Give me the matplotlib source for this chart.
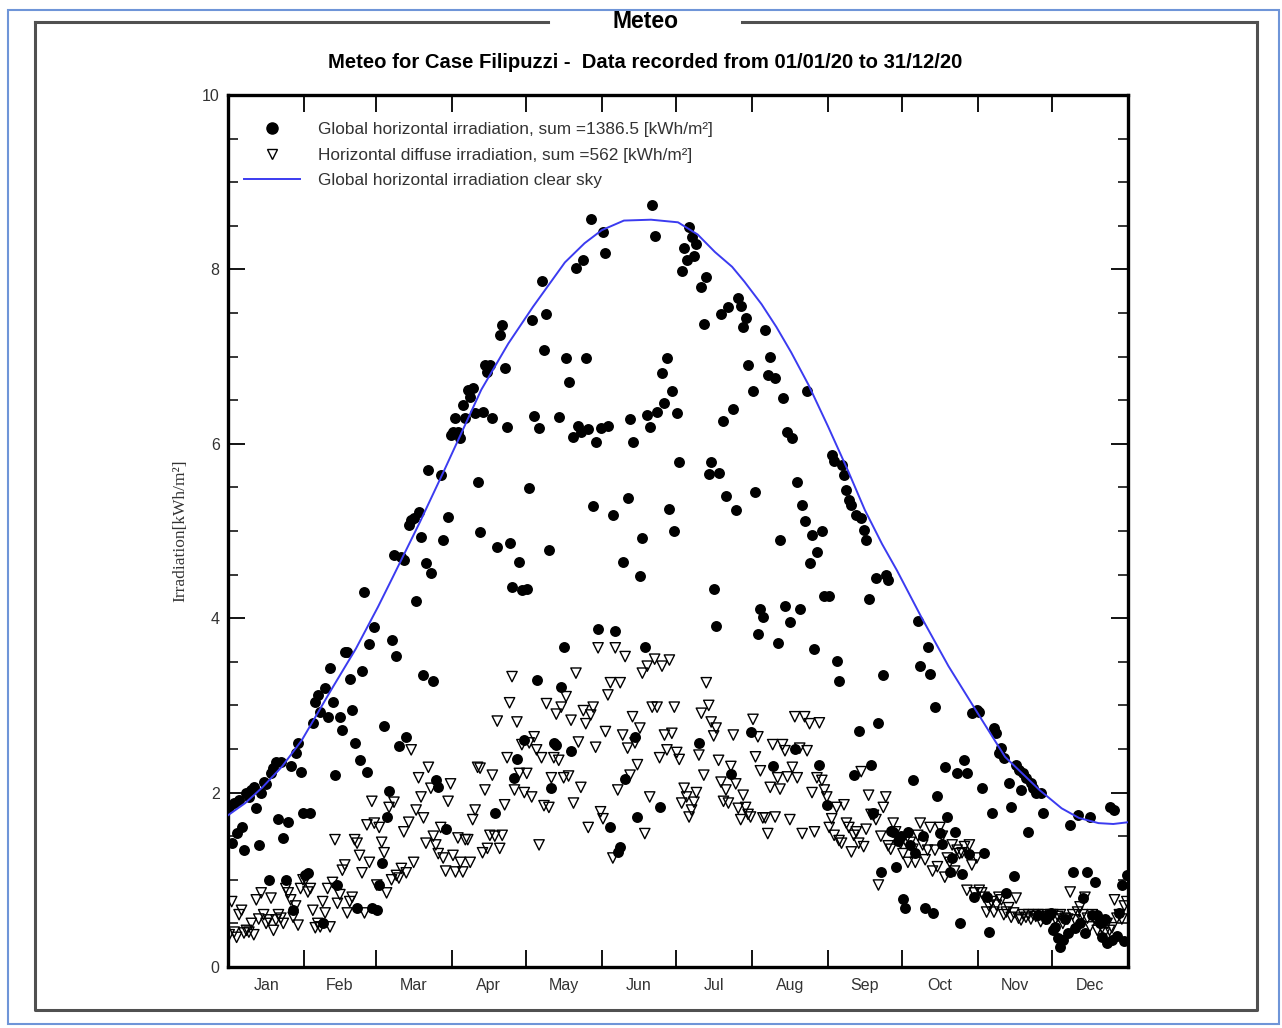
import numpy as np
import matplotlib
matplotlib.use("Agg")
import matplotlib.pyplot as plt
from matplotlib.patches import Rectangle
from matplotlib.lines import Line2D

# ---------------- data ----------------
months = ["Jan", "Feb", "Mar", "Apr", "May", "Jun", "Jul", "Aug", "Sep", "Oct", "Nov", "Dec"]
month_days = [31, 29, 31, 30, 31, 30, 31, 31, 30, 31, 30, 31]

# daily global horizontal irradiation [kWh/m2]
glob_jan = [1.83, 1.42, 1.88, 1.54, 1.92, 1.6, 1.34, 2.0, 1.95, 2.03, 2.06, 1.82, 1.4, 2.0, 2.12, 2.1,
            1.0, 2.22, 2.28, 2.35, 1.7, 2.35, 1.48, 1.0, 1.66, 2.3, 0.65, 2.45, 2.57, 2.24, 1.77]
glob_feb = [1.05, 1.08, 1.77, 2.8, 3.04, 3.12, 2.92, 0.5, 3.2, 2.87, 3.43, 3.04, 2.2, 0.94, 2.87,
            2.72, 3.61, 3.61, 3.3, 2.95, 2.57, 0.68, 2.37, 3.4, 4.3, 2.24, 3.7, 0.68, 3.9]
glob_mar = [0.65, 0.94, 1.19, 2.76, 1.72, 2.02, 3.75, 4.72, 3.57, 2.53, 4.70, 4.67, 2.64, 5.07, 5.13,
            5.15, 4.2, 5.22, 4.93, 3.35, 4.63, 5.7, 4.52, 3.28, 2.14, 2.06, 5.64, 4.9, 1.58, 5.16, 6.1]
glob_apr = [6.13, 6.3, 6.13, 6.07, 6.44, 6.3, 6.62, 6.54, 6.64, 6.35, 5.56, 4.99, 6.36, 6.9, 6.82,
            6.9, 6.3, 1.77, 4.82, 7.25, 7.36, 6.87, 6.19, 4.86, 4.36, 2.17, 2.38, 4.65, 4.32, 2.6]
glob_may = [4.33, 5.49, 7.42, 6.32, 3.29, 6.18, 7.87, 7.08, 7.49, 4.78, 2.05, 2.57, 2.55, 6.31, 3.21,
            3.67, 6.98, 6.71, 2.48, 6.08, 8.02, 6.2, 6.13, 8.11, 6.98, 6.17, 8.58, 5.29, 6.02, 3.88, 6.18]
glob_jun = [8.43, 8.19, 6.2, 1.6, 5.18, 3.85, 1.32, 1.38, 4.65, 2.16, 5.38, 6.28, 6.02, 2.64, 1.72,
            4.48, 4.92, 3.67, 6.33, 6.19, 8.74, 8.38, 6.36, 1.83, 6.81, 6.47, 6.98, 5.25, 6.6, 5.0]
glob_jul = [6.35, 5.79, 7.98, 8.24, 8.11, 8.49, 8.37, 8.15, 8.29, 2.57, 7.8, 7.37, 7.91, 5.65, 5.79,
            4.33, 3.91, 5.67, 7.49, 6.26, 5.4, 7.57, 2.21, 6.4, 5.24, 7.67, 7.58, 7.34, 7.44, 6.9, 2.7]
glob_aug = [6.6, 5.45, 3.82, 4.1, 4.01, 7.3, 6.79, 7.0, 2.3, 6.75, 3.71, 4.9, 6.52, 4.14, 6.13,
            3.96, 6.07, 2.5, 5.56, 4.1, 5.3, 5.12, 6.6, 4.63, 4.95, 3.65, 4.76, 2.32, 5.0, 4.25, 1.86]
glob_sep = [4.25, 5.87, 5.8, 3.51, 3.28, 5.76, 5.64, 5.47, 5.36, 5.3, 2.2, 5.18, 2.71, 5.15, 5.01,
            4.9, 4.22, 2.32, 1.77, 4.46, 2.8, 1.09, 3.35, 4.5, 4.44, 1.56, 1.55, 1.15, 1.45, 1.5]
glob_oct = [0.78, 0.68, 1.55, 1.4, 2.15, 1.31, 3.97, 3.45, 1.5, 0.68, 3.67, 3.36, 0.62, 2.98, 1.96,
            1.54, 1.41, 2.29, 1.72, 1.09, 1.25, 1.55, 2.22, 0.5, 1.07, 2.37, 2.22, 1.3, 2.91, 0.8, 2.95]
glob_nov = [2.92, 2.05, 1.31, 0.8, 0.4, 1.77, 2.74, 2.68, 2.45, 2.51, 2.4, 0.85, 2.11, 1.83, 1.04,
            2.32, 2.26, 2.03, 2.22, 2.17, 1.55, 2.11, 2.05, 2.0, 0.6, 2.0, 1.77, 0.55, 0.6, 0.62]
glob_dec = [0.42, 0.46, 0.33, 0.23, 0.31, 0.55, 0.39, 1.63, 1.09, 0.45, 1.74, 0.5, 0.79, 0.39, 1.09,
            1.72, 0.6, 0.97, 0.6, 0.5, 0.34, 0.55, 0.28, 1.83, 0.31, 1.8, 0.36, 0.62, 0.94, 0.3, 1.05]

# daily horizontal diffuse irradiation [kWh/m2]
diff_jan = [0.37, 0.75, 0.4, 0.34, 0.6, 0.65, 0.39, 0.42, 0.4, 0.5, 0.37, 0.77, 0.55, 0.85, 0.6, 0.5,
            0.54, 0.79, 0.42, 0.54, 0.6, 0.56, 0.5, 0.9, 0.85, 0.77, 0.57, 0.7, 0.48, 0.9, 1.0]
diff_feb = [1.0, 0.86, 0.9, 0.65, 0.45, 0.5, 0.46, 0.75, 0.62, 0.9, 0.46, 0.97, 1.46, 0.73, 0.83,
            1.11, 1.17, 0.62, 0.75, 0.8, 1.46, 1.42, 1.28, 1.08, 0.62, 1.63, 1.2, 1.9, 1.65]
diff_mar = [0.94, 1.6, 1.43, 1.31, 0.85, 1.83, 1.0, 1.89, 1.05, 1.02, 1.13, 1.55, 1.08, 1.66, 2.49,
            1.2, 1.8, 2.17, 1.95, 1.71, 1.42, 2.29, 2.05, 1.5, 1.4, 1.3, 1.6, 1.25, 1.1, 1.9, 2.1]
diff_apr = [1.28, 1.09, 1.48, 1.2, 1.09, 1.46, 1.46, 1.2, 1.69, 1.8, 2.29, 2.28, 1.31, 2.03, 1.36,
            1.51, 2.2, 1.5, 2.82, 1.36, 1.51, 1.86, 2.4, 3.03, 3.33, 2.03, 2.81, 2.22, 2.55, 2.0]
diff_may = [2.22, 2.57, 1.95, 2.64, 2.49, 1.4, 2.4, 1.85, 3.02, 1.83, 2.17, 2.4, 2.9, 2.37, 2.98,
            2.17, 3.1, 2.19, 2.83, 1.88, 3.37, 2.58, 2.06, 2.94, 2.79, 1.6, 2.89, 2.98, 2.52, 3.66, 1.78]
diff_jun = [1.7, 2.7, 3.12, 3.26, 1.25, 3.66, 2.03, 3.26, 2.66, 3.56, 2.51, 2.2, 2.87, 2.57, 2.32,
            2.74, 3.37, 1.53, 3.45, 1.95, 2.98, 3.53, 2.98, 2.4, 3.45, 2.66, 2.49, 3.52, 2.68, 2.98]
diff_jul = [2.46, 2.38, 1.88, 2.05, 1.95, 1.72, 1.8, 1.89, 2.0, 2.43, 2.91, 2.2, 3.26, 3.0, 2.81,
            2.65, 2.74, 2.37, 2.12, 1.9, 2.03, 1.88, 2.3, 2.66, 2.1, 1.82, 1.69, 1.97, 1.83, 1.75, 1.72]
diff_aug = [2.84, 2.41, 2.64, 2.25, 1.71, 1.71, 1.53, 2.06, 2.55, 1.72, 2.17, 2.04, 2.55, 2.48, 2.18,
            1.69, 2.29, 2.87, 2.17, 2.51, 1.53, 2.87, 2.48, 2.79, 2.0, 1.55, 2.17, 2.8, 2.14, 2.03, 1.95]
diff_sep = [1.6, 1.7, 1.51, 1.83, 1.45, 1.42, 1.86, 1.65, 1.6, 1.32, 1.51, 1.55, 1.42, 2.24, 1.38,
            1.58, 1.97, 1.75, 1.74, 1.69, 0.94, 1.5, 1.83, 1.95, 1.39, 1.35, 1.65, 1.55, 1.48, 1.42]
diff_oct = [1.3, 1.45, 1.2, 1.43, 1.35, 1.2, 1.51, 1.65, 1.4, 1.23, 1.34, 1.6, 1.1, 1.34, 1.15,
            1.6, 1.5, 1.03, 1.25, 1.2, 1.4, 1.1, 1.34, 1.3, 1.31, 1.38, 0.88, 1.4, 1.17, 0.85, 1.25]
diff_nov = [0.88, 0.85, 0.8, 0.63, 0.7, 0.75, 0.63, 0.71, 0.8, 0.77, 0.6, 0.63, 0.68, 0.57, 0.62,
            0.79, 0.56, 0.54, 0.6, 0.57, 0.6, 0.55, 0.6, 0.58, 0.6, 0.52, 0.6, 0.55, 0.58, 0.6]
diff_dec = [0.6, 0.55, 0.58, 0.6, 0.5, 0.56, 0.55, 0.86, 0.6, 0.54, 0.63, 0.69, 0.6, 0.8, 0.56,
            0.46, 0.6, 0.55, 0.42, 0.5, 0.45, 0.39, 0.5, 0.42, 0.45, 0.77, 0.56, 0.6, 0.55, 0.7, 0.75]

# clear-sky global horizontal irradiation (day of year, value)
clear_day = [0, 7, 14, 22, 30, 42, 52, 61, 67, 78, 88, 103, 114, 124, 137, 145, 152, 161, 172, 183,
             191, 198, 205, 210, 217, 223, 229, 236, 244, 252, 259, 266, 272, 282, 293, 304, 316,
             330, 339, 346, 354, 360, 366]
clear_val = [1.74, 1.88, 2.06, 2.3, 2.6, 3.18, 3.65, 4.13, 4.47, 5.1, 5.7, 6.62, 7.15, 7.57, 8.08,
             8.3, 8.45, 8.56, 8.57, 8.54, 8.4, 8.2, 8.03, 7.86, 7.6, 7.34, 7.05, 6.68, 6.2, 5.7,
             5.24, 4.85, 4.55, 4.01, 3.45, 2.95, 2.41, 2.03, 1.82, 1.71, 1.65, 1.64, 1.66]

legend_labels = ["Global horizontal irradiation, sum =1386.5 [kWh/m\u00b2]",
                 "Horizontal diffuse irradiation, sum =562 [kWh/m\u00b2]",
                 "Global horizontal irradiation clear sky"]

# ---------------- assemble ----------------
glob = np.concatenate([glob_jan, glob_feb, glob_mar, glob_apr, glob_may, glob_jun,
                       glob_jul, glob_aug, glob_sep, glob_oct, glob_nov, glob_dec])
diff = np.concatenate([diff_jan, diff_feb, diff_mar, diff_apr, diff_may, diff_jun,
                       diff_jul, diff_aug, diff_sep, diff_oct, diff_nov, diff_dec])
days = np.arange(len(glob)) + 0.5
month_edges = np.concatenate([[0], np.cumsum(month_days)])
month_mid = (month_edges[:-1] + month_edges[1:]) / 2

# ---------------- figure ----------------
W, H = 1282, 1028
fig = plt.figure(figsize=(W / 100, H / 100), dpi=100)
fig.patch.set_facecolor("white")


def fx(x):
    return x / W


def fy(y):
    return 1 - y / H


# outer blue border
fig.add_artist(Rectangle((fx(8), fy(1024)), (1279 - 8) / W, (1024 - 10) / H,
                         transform=fig.transFigure, fill=False, edgecolor="#6f95d8", lw=1.5))
# inner gray frame with a gap for the title
frame_kw = dict(transform=fig.transFigure, color="#505050", lw=2.2, solid_capstyle="projecting")
fig.add_artist(Line2D([fx(35), fx(548)], [fy(22), fy(22)], **frame_kw))
fig.add_artist(Line2D([fx(742), fx(1257)], [fy(22), fy(22)], **frame_kw))
fig.add_artist(Line2D([fx(35), fx(35), fx(1257), fx(1257)], [fy(22), fy(1010), fy(1010), fy(22)],
                      **frame_kw))

fig.text(fx(645), fy(22), "Meteo", ha="center", va="center", fontsize=16.5, fontweight="bold",
         family="Liberation Sans")
fig.text(fx(645), fy(62),
         "Meteo for Case Filipuzzi -  Data recorded from 01/01/20 to 31/12/20",
         ha="center", va="center", fontsize=14.6, fontweight="bold", family="Liberation Sans")

ax = fig.add_axes([fx(228), fy(967), (1128 - 228) / W, (967 - 95) / H])
ax.set_xlim(0, 366)
ax.set_ylim(0, 10)

ax.scatter(days, glob, s=62, marker="o", color="black", zorder=3, linewidths=0)
ax.scatter(days, diff, s=55, marker="v", facecolor="none", edgecolor="black", linewidths=1.0, zorder=3)
ax.plot(clear_day, clear_val, color="#3b3bf0", lw=1.4, zorder=4)

for sp in ax.spines.values():
    sp.set_linewidth(2.4)

ax.set_xticks(month_edges)
ax.set_xticklabels([])
ax.set_xticks(month_mid, minor=True)
ax.set_xticklabels(months, minor=True)
ax.tick_params(axis="x", which="major", direction="in", length=12, width=1.3, top=True, bottom=True)
ax.tick_params(axis="x", which="minor", length=0, pad=8, labelsize=11.5, labelcolor="#333333")

ax.set_yticks(np.arange(0, 11, 2))
ax.set_yticks(np.arange(0, 10.01, 0.5), minor=True)
ax.tick_params(axis="y", which="major", direction="in", length=12, width=1.3, left=True, right=True,
               labelsize=11.5, labelcolor="#333333", pad=6)
ax.tick_params(axis="y", which="minor", direction="in", length=7, width=1.1, left=True, right=True)
for lab in ax.get_xticklabels(minor=True) + ax.get_yticklabels():
    lab.set_family("Liberation Sans")

ax.set_ylabel("Irradiation[kWh/m\u00b2]", family="Liberation Serif", fontsize=12.5, labelpad=10,
              color="#333333")

handles = [Line2D([], [], marker="o", color="black", linestyle="none", markersize=8),
           Line2D([], [], marker="v", markerfacecolor="none", markeredgecolor="black",
                  linestyle="none", markersize=7.5, markeredgewidth=1.0),
           Line2D([], [], color="#3b3bf0", lw=1.4)]
leg = ax.legend(handles, legend_labels, loc="upper left", bbox_to_anchor=(0.0, 0.987),
                frameon=False, handlelength=3.3, handletextpad=1.0, labelspacing=0.62,
                prop={"family": "Liberation Sans", "size": 12.4})
for t in leg.get_texts():
    t.set_color("#333333")

fig.savefig("out.png", dpi=100, facecolor="white")
